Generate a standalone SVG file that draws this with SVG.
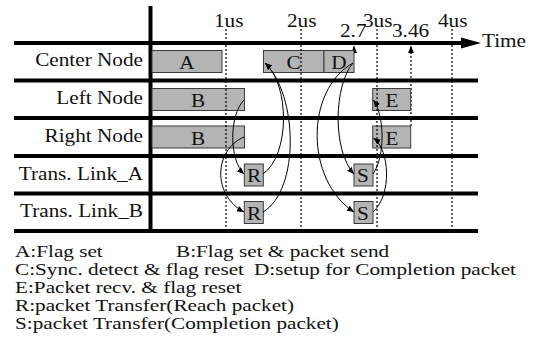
<svg xmlns="http://www.w3.org/2000/svg" width="533" height="349" viewBox="0 0 533 349">
<style>
text{font-family:"Liberation Serif","Times New Roman",serif;font-size:18px;fill:#111}
.lbl{text-anchor:end}
.mid{text-anchor:middle}
.leg{font-size:16.2px}
.grid{stroke:#000;stroke-width:4;fill:none}
.dash{stroke:#000;stroke-width:1.2;stroke-dasharray:2,2;fill:none}
.box{fill:#b4b4b4;stroke:#3a3a3a;stroke-width:1}
.arr{stroke:#000;stroke-width:1;fill:none;marker-end:url(#ah)}
</style>
<defs>
<marker id="ah" markerUnits="userSpaceOnUse" markerWidth="7" markerHeight="6" refX="7" refY="3" orient="auto">
<path d="M0,0 L7,3 L0,6 z" fill="#000"/>
</marker>
</defs>
<rect width="533" height="349" fill="#fff"/>
<g id="grid">
<line class="grid" x1="14" y1="43" x2="462" y2="43"/>
<polygon points="461,37.5 481,43 461,48.5" fill="#000"/>
<line class="grid" x1="14" y1="80.5" x2="478" y2="80.5"/>
<line class="grid" x1="14" y1="118" x2="478" y2="118"/>
<line class="grid" x1="14" y1="156" x2="478" y2="156"/>
<line class="grid" x1="14" y1="193.5" x2="478" y2="193.5"/>
<line class="grid" x1="14" y1="231" x2="478" y2="231"/>
<line class="grid" x1="150.5" y1="6" x2="150.5" y2="233"/>
</g>
<g id="axis-labels">
<text transform="translate(482,47) scale(1.18,1)">Time</text>
<text transform="translate(214,27) scale(1.18,1)">1us</text>
<text transform="translate(287,27) scale(1.18,1)">2us</text>
<text transform="translate(363,27) scale(1.18,1)">3us</text>
<text transform="translate(438,27) scale(1.18,1)">4us</text>
<text transform="translate(340,37) scale(1.18,1)">2.7</text>
<text transform="translate(392,37) scale(1.18,1)">3.46</text>
</g>
<g id="row-labels">
<text class="lbl" transform="translate(143,66) scale(1.18,1)">Center Node</text>
<text class="lbl" transform="translate(143,104) scale(1.18,1)">Left Node</text>
<text class="lbl" transform="translate(143,142) scale(1.18,1)">Right Node</text>
<text class="lbl" transform="translate(143,180) scale(1.18,1)">Trans. Link_A</text>
<text class="lbl" transform="translate(143,217) scale(1.18,1)">Trans. Link_B</text>
</g>
<g id="marker-lines">
<line class="dash" x1="411" y1="126" x2="411" y2="52"/>
<line x1="411" y1="54" x2="411" y2="46" stroke="#000" stroke-width="1" marker-end="url(#ah)"/>
<line x1="354" y1="51" x2="354" y2="46" stroke="#000" stroke-width="1" marker-end="url(#ah)"/>
</g>
<g id="node-A"><rect class="box" x="152" y="50.5" width="70" height="22"/><text class="mid" transform="translate(187,69) scale(1.18,1)">A</text></g>
<g id="node-C"><rect class="box" x="263.5" y="50.5" width="60.5" height="22"/><text class="mid" transform="translate(293.5,69) scale(1.18,1)">C</text></g>
<g id="node-D"><rect class="box" x="324" y="50.5" width="30" height="22"/><text class="mid" transform="translate(339,69) scale(1.18,1)">D</text></g>
<g id="node-B-left"><rect class="box" x="152" y="88.5" width="92.5" height="22"/><text class="mid" transform="translate(198,107) scale(1.18,1)">B</text></g>
<g id="node-B-right"><rect class="box" x="152" y="126" width="92.5" height="22"/><text class="mid" transform="translate(198,144.5) scale(1.18,1)">B</text></g>
<g id="node-E-left"><rect class="box" x="372.7" y="88.5" width="38" height="22"/><text class="mid" transform="translate(392,107) scale(1.18,1)">E</text></g>
<g id="node-E-right"><rect class="box" x="372.7" y="126" width="38" height="22"/><text class="mid" transform="translate(392,144.5) scale(1.18,1)">E</text></g>
<g id="node-R-A"><rect class="box" x="244.3" y="164" width="19" height="22"/><text class="mid" transform="translate(254,182) scale(1.18,1)">R</text></g>
<g id="node-R-B"><rect class="box" x="244.3" y="201.5" width="19" height="22"/><text class="mid" transform="translate(254,219.5) scale(1.18,1)">R</text></g>
<g id="node-S-A"><rect class="box" x="354" y="164" width="19" height="22"/><text class="mid" transform="translate(363,182) scale(1.18,1)">S</text></g>
<g id="node-S-B"><rect class="box" x="354" y="201.5" width="19" height="22"/><text class="mid" transform="translate(363,219.5) scale(1.18,1)">S</text></g>
<g id="time-lines">
<line class="dash" x1="226" y1="29" x2="226" y2="231"/>
<line class="dash" x1="301" y1="29" x2="301" y2="231"/>
<line class="dash" x1="377" y1="29" x2="377" y2="231"/>
<line class="dash" x1="452" y1="29" x2="452" y2="231"/>
</g>
<g id="connectors">
<path class="arr" d="M244,100 C229,115 229,160 244,174"/>
<path class="arr" d="M244,137 C214,150 212,195 244,212"/>
<path class="arr" d="M263,174 C290,155 290,85 265,63"/>
<path class="arr" d="M263,212 C300,190 298,95 265,63"/>
<path class="arr" d="M353,63 C334,85 332,150 354,174"/>
<path class="arr" d="M353,63 C305,90 305,180 354,212"/>
<path class="arr" d="M373,174 C386,155 384,115 373.5,100"/>
<path class="arr" d="M373,212 C392,195 390,150 373.5,138"/>
</g>
<g id="legend">
<text class="leg" transform="translate(15,257) scale(1.31,1)">A:Flag set</text>
<text class="leg" transform="translate(176,257) scale(1.31,1)">B:Flag set &amp; packet send</text>
<text class="leg" transform="translate(15,275) scale(1.31,1)">C:Sync. detect &amp; flag reset</text>
<text class="leg" transform="translate(254,275) scale(1.31,1)">D:setup for Completion packet</text>
<text class="leg" transform="translate(15,293) scale(1.31,1)">E:Packet recv. &amp; flag reset</text>
<text class="leg" transform="translate(15,311) scale(1.31,1)">R:packet Transfer(Reach packet)</text>
<text class="leg" transform="translate(15,329) scale(1.31,1)">S:packet Transfer(Completion packet)</text>
</g>
</svg>
